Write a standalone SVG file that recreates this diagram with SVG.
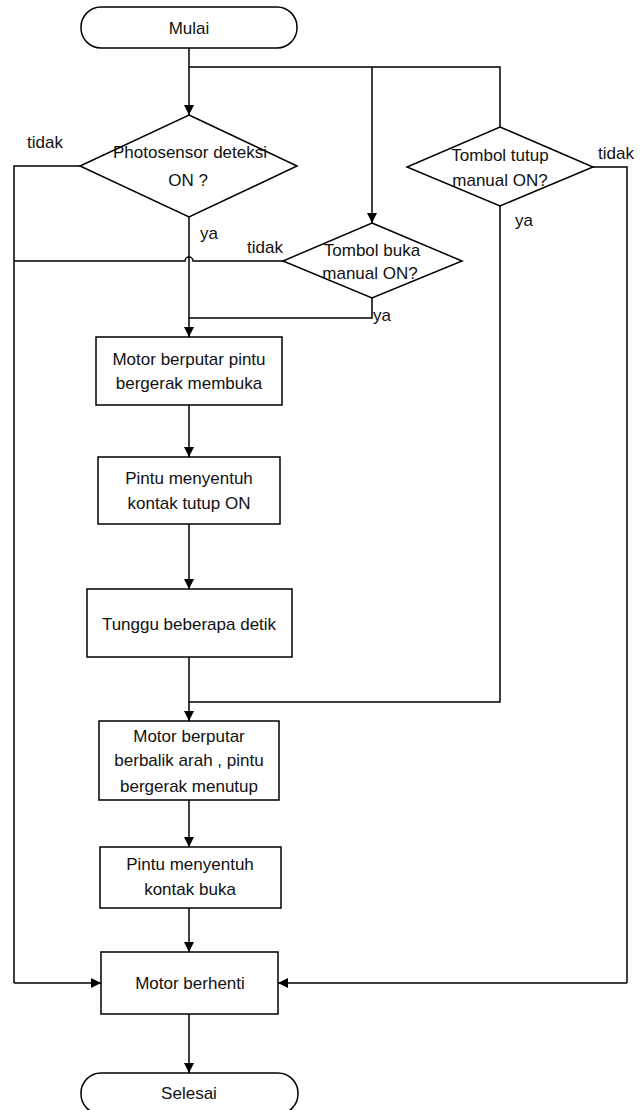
<svg xmlns="http://www.w3.org/2000/svg" width="640" height="1110" viewBox="0 0 640 1110">
<style>
.s{fill:#fff;stroke:#000;stroke-width:1.5}
.c{fill:none;stroke:#000;stroke-width:1.5}
.a{marker-end:url(#ah)}
text{font-family:"Liberation Sans",Arial,sans-serif;font-size:17px;fill:#111}
.m{text-anchor:middle}
</style>
<defs>
<marker id="ah" markerWidth="10" markerHeight="12" refX="10" refY="6" orient="auto" markerUnits="userSpaceOnUse">
<path d="M0,1 L10,6 L0,11 Z" fill="#000"/>
</marker>
</defs>
<rect width="640" height="1110" fill="#fff"/>
<g id="connectors">
<path class="c a" d="M189,48 V115"/>
<path class="c" d="M189,67 H500 V127"/>
<path class="c a" d="M372,67 V223"/>
<path class="c" d="M80,166 H14 V983"/>
<path class="c a" d="M14,983 H101"/>
<path class="c" d="M593,167 H627 V983"/>
<path class="c a" d="M627,983 H278"/>
<path class="c" d="M283,261 H193 A4,4 0 0 0 185,261 H14"/>
<path class="c a" d="M189,217 V337"/>
<path class="c" d="M372,298 V318 H189"/>
<path class="c a" d="M189,405 V457"/>
<path class="c a" d="M189,524 V589"/>
<path class="c a" d="M189,657 V721"/>
<path class="c" d="M500,206 V702 H189"/>
<path class="c a" d="M189,800 V847"/>
<path class="c a" d="M189,908 V952"/>
<path class="c a" d="M189,1014 V1073"/>
</g>
<g id="mulai"><rect class="s" x="81" y="7" width="216" height="41" rx="20"/><text class="m" x="189" y="34">Mulai</text></g>
<g id="photosensor"><polygon class="s" points="189,115 297,166 189,217 80,166"/><text class="m" x="190" y="158">Photosensor deteksi</text><text class="m" x="188" y="186">ON ?</text></g>
<g id="tombol-tutup"><polygon class="s" points="500,127 593,167 500,206 407,167"/><text class="m" x="500" y="161">Tombol tutup</text><text class="m" x="500" y="186">manual ON?</text></g>
<g id="tombol-buka"><polygon class="s" points="372,223 462,261 372,298 283,261"/><text class="m" x="372" y="256">Tombol buka</text><text class="m" x="370" y="279">manual ON?</text></g>
<g id="labels">
<text x="27" y="148">tidak</text>
<text x="598" y="159">tidak</text>
<text x="515" y="226">ya</text>
<text x="200" y="239">ya</text>
<text x="247" y="253">tidak</text>
<text x="373" y="321">ya</text>
</g>
<g id="box1"><rect class="s" x="96" y="337" width="186" height="68"/><text class="m" x="189" y="365">Motor berputar pintu</text><text class="m" x="189" y="389">bergerak membuka</text></g>
<g id="box2"><rect class="s" x="98" y="457" width="182" height="67"/><text class="m" x="189" y="484">Pintu menyentuh</text><text class="m" x="189" y="509">kontak tutup ON</text></g>
<g id="box3"><rect class="s" x="87" y="589" width="205" height="68"/><text class="m" x="189" y="630">Tunggu beberapa detik</text></g>
<g id="box4"><rect class="s" x="99" y="721" width="180" height="79"/><text class="m" x="189" y="742">Motor berputar</text><text class="m" x="189" y="766">berbalik arah , pintu</text><text class="m" x="189" y="792">bergerak menutup</text></g>
<g id="box5"><rect class="s" x="100" y="847" width="181" height="61"/><text class="m" x="190" y="870">Pintu menyentuh</text><text class="m" x="190" y="895">kontak buka</text></g>
<g id="box6"><rect class="s" x="101" y="952" width="177" height="62"/><text class="m" x="190" y="989">Motor berhenti</text></g>
<g id="selesai"><rect class="s" x="81" y="1073" width="217" height="41" rx="20"/><text class="m" x="189" y="1099">Selesai</text></g>
</svg>
